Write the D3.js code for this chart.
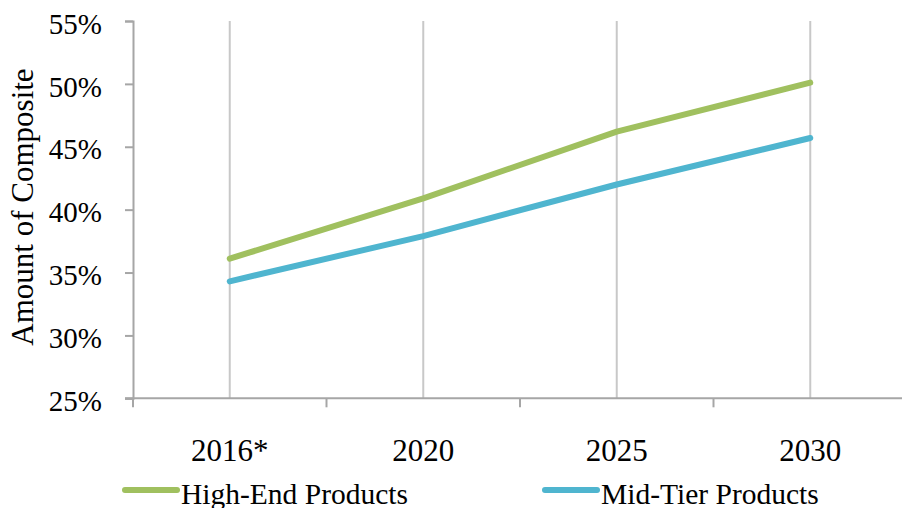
<!DOCTYPE html>
<html>
<head>
<meta charset="utf-8">
<script src="https://cdn.jsdelivr.net/npm/d3@7"></script>
<style>
  html, body { margin: 0; padding: 0; background: #fff; }
  svg { display: block; font-family: "Liberation Serif", "Times New Roman", serif; }
</style>
</head>
<body>
<svg id="chart" width="902" height="508"></svg>
<script>
// Share of composite material by product tier
const categories = ["2016*", "2020", "2025", "2030"];
const highEnd = [0.361, 0.409, 0.462, 0.501];
const midTier = [0.343, 0.379, 0.420, 0.457];
const yTicks = [0.25, 0.30, 0.35, 0.40, 0.45, 0.50, 0.55];
const seriesNames = ["High-End Products", "Mid-Tier Products"];
const seriesColors = ["#a0c05f", "#4fb5cf"];

const svg = d3.select("#chart");
const plotLeft = 133, plotRight = 907, plotTop = 21, plotBottom = 398.3;

const x = d3.scaleBand().domain(categories).range([plotLeft, plotRight]).padding(0);
const y = d3.scaleLinear().domain([0.25, 0.55]).range([plotBottom, plotTop]);
const cx = d => x(d) + x.bandwidth() / 2;

// vertical gridlines at category centres
svg.append("g")
  .selectAll("line")
  .data(categories)
  .join("line")
  .attr("x1", cx).attr("x2", cx)
  .attr("y1", plotTop).attr("y2", plotBottom)
  .attr("stroke", "#c8c8c8")
  .attr("stroke-width", 2);

// y axis
const yAxis = svg.append("g")
  .attr("transform", `translate(${plotLeft},0)`)
  .call(d3.axisLeft(y).tickValues(yTicks).tickSize(8).tickPadding(23).tickFormat(d3.format(".0%")));
yAxis.select(".domain").attr("stroke", "#a6a6a6").attr("stroke-width", 2);
yAxis.selectAll(".tick line").attr("stroke", "#a6a6a6").attr("stroke-width", 2);
yAxis.selectAll(".tick text")
  .attr("font-family", "Liberation Serif, Times New Roman, serif")
  .attr("font-size", 29)
  .attr("fill", "#000")
  .attr("dy", "0.42em");

// x axis: labels centred on categories
const xAxis = svg.append("g")
  .attr("transform", `translate(0,${plotBottom})`)
  .call(d3.axisBottom(x).tickSize(0).tickPadding(41));
xAxis.select(".domain").remove();
xAxis.selectAll(".tick text")
  .attr("font-family", "Liberation Serif, Times New Roman, serif")
  .attr("font-size", 31)
  .attr("fill", "#000");

// x axis line with ticks at band boundaries
svg.append("line")
  .attr("x1", plotLeft - 8).attr("x2", plotRight)
  .attr("y1", plotBottom).attr("y2", plotBottom)
  .attr("stroke", "#a6a6a6").attr("stroke-width", 2);
const bounds = categories.map(c => x(c)).concat([x.range()[1]]);
svg.append("g")
  .selectAll("line")
  .data(bounds)
  .join("line")
  .attr("x1", d => d).attr("x2", d => d)
  .attr("y1", plotBottom).attr("y2", plotBottom + 9)
  .attr("stroke", "#a6a6a6").attr("stroke-width", 2);

// y axis title
svg.append("text")
  .attr("transform", "translate(33,207) rotate(-90)")
  .attr("text-anchor", "middle")
  .attr("font-size", 31)
  .attr("fill", "#000")
  .text("Amount of Composite");

// series lines
const line = d3.line()
  .x((d, i) => cx(categories[i]))
  .y(d => y(d));
[highEnd, midTier].forEach((vals, i) => {
  svg.append("path")
    .datum(vals)
    .attr("d", line)
    .attr("fill", "none")
    .attr("stroke", seriesColors[i])
    .attr("stroke-width", 6)
    .attr("stroke-linecap", "round")
    .attr("stroke-linejoin", "round");
});

// legend
const legendX = [123, 543];
const legend = svg.append("g");
seriesNames.forEach((name, i) => {
  const g = legend.append("g").attr("transform", `translate(${legendX[i]},0)`);
  g.append("line")
    .attr("x1", 2).attr("x2", 54)
    .attr("y1", 490).attr("y2", 490)
    .attr("stroke", seriesColors[i])
    .attr("stroke-width", 6)
    .attr("stroke-linecap", "round");
  g.append("text")
    .attr("x", 58).attr("y", 504)
    .attr("font-size", 29.5)
    .attr("fill", "#000")
    .text(name);
});
</script>
</body>
</html>
